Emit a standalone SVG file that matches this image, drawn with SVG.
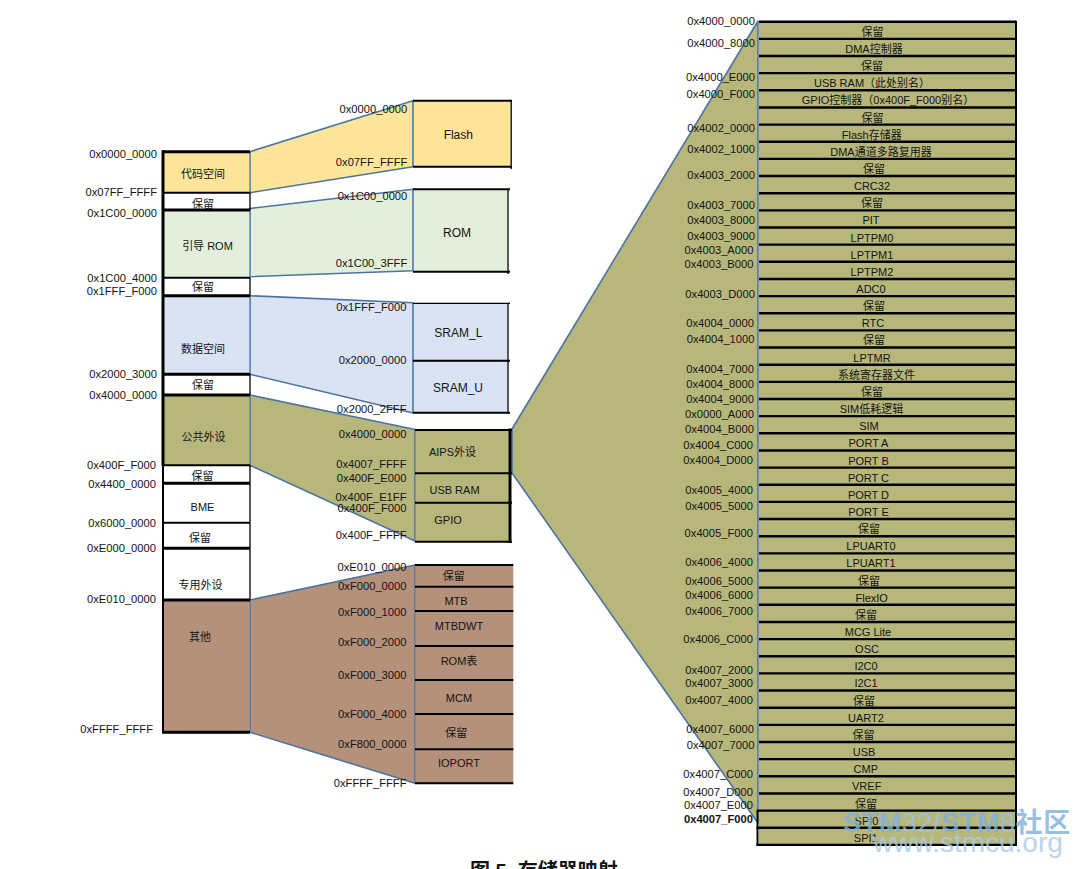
<svg xmlns="http://www.w3.org/2000/svg" width="1081" height="869" viewBox="0 0 1081 869">
<style>
text{font-family:"Liberation Sans","Noto Sans CJK SC",Arial,sans-serif;fill:#141414}
.a{font-size:11.2px;text-anchor:end}
.n{font-size:11px;text-anchor:middle}
.m{font-size:12px;text-anchor:middle}
.k{stroke:#000;fill:none}
.t3{stroke-width:3}
.t2{stroke-width:2}
.t1{stroke-width:1.3}
.trap{stroke:#4C73A3;stroke-width:1.6;stroke-linejoin:round}
.org{fill:#FEE59A}.grn{fill:#E3EFDA}.blu{fill:#DAE3F3}.olv{fill:#B7B77B}.brn{fill:#B4917A}
</style>
<rect width="1081" height="869" fill="#fff"/>

<g id="connectors">
<polygon class="trap org" points="250,151.7 413,100.7 413,166.7 250,192.7"/>
<polygon class="trap grn" points="250,208.5 413,189.3 413,270.7 250,276.7"/>
<polygon class="trap blu" points="250,295.7 413,302.7 413,413 250,374.3"/>
<polygon class="trap olv" points="250,395 415,429.5 415,541 250,465.3"/>
<polygon class="trap brn" points="250,600 415,565 415,783.3 250,732.3"/>
<polygon class="trap olv" points="512,429 758,21 758,823 512,473"/>
</g>

<g id="left-map">
<rect x="163" y="151.7" width="86.2" height="41" class="org"/>
<rect x="163" y="210" width="86.2" height="67.7" class="grn"/>
<rect x="163" y="295.7" width="86.2" height="78.6" class="blu"/>
<rect x="163" y="395" width="86.2" height="70.3" class="olv"/>
<rect x="163" y="600" width="86.2" height="132.3" class="brn"/>
<path class="k t3" d="M163 150.2V466"/>
<path class="k t2" d="M163 466V733.5"/>
<path class="k t1" d="M250 192.7V210M250 277.7V295.7M250 374.3V395M250 465.3V600"/>
<path class="k t3" d="M163 151.7H250M163 210H250M163 295.7H250M163 374.3H250M163 395H250M163 483.3H250M163 548.3H250M163 600H250M163 732.3H250"/>
<path class="k t2" d="M163 192.7H250M163 277.7H250M163 465.3H250M163 522.7H250"/>
<text class="n" x="203" y="177.5">代码空间</text>
<text class="n" x="203" y="208">保留</text>
<text class="n" x="207.5" y="249.5">引导 ROM</text>
<text class="n" x="203" y="291">保留</text>
<text class="n" x="203" y="352.5">数据空间</text>
<text class="n" x="203" y="388.5">保留</text>
<text class="n" x="203.5" y="441">公共外设</text>
<text class="n" x="202.5" y="480">保留</text>
<text class="n" x="202.5" y="510.5">BME</text>
<text class="n" x="200" y="542">保留</text>
<text class="n" x="200.5" y="588.5">专用外设</text>
<text class="n" x="200" y="641">其他</text>
</g>

<g id="left-addresses">
<text class="a" x="157" y="158.3">0x0000_0000</text>
<text class="a" x="157" y="196">0x07FF_FFFF</text>
<text class="a" x="157" y="216.5">0x1C00_0000</text>
<text class="a" x="157" y="281.5">0x1C00_4000</text>
<text class="a" x="157" y="295">0x1FFF_F000</text>
<text class="a" x="157" y="378">0x2000_3000</text>
<text class="a" x="157" y="398.5">0x4000_0000</text>
<text class="a" x="156" y="469">0x400F_F000</text>
<text class="a" x="156" y="487.5">0x4400_0000</text>
<text class="a" x="156" y="526.5">0x6000_0000</text>
<text class="a" x="156" y="551.5">0xE000_0000</text>
<text class="a" x="156" y="603.3">0xE010_0000</text>
<text class="a" x="153" y="733">0xFFFF_FFFF</text>
</g>

<g id="flash">
<rect x="414" y="100.7" width="96.5" height="66" class="org"/>
<path class="k t2" d="M413 100.7H512M413 166.7H512"/>
<path class="k t1" d="M511.2 100V169"/>
<text class="m" x="458.3" y="139">Flash</text>
</g>
<g id="rom">
<rect x="414" y="189.3" width="93.5" height="82.4" class="grn"/>
<path class="k t2" d="M413 189.3H510M413 271.7H510"/>
<path class="k t1" d="M508 189V274"/>
<text class="m" x="457" y="236.5">ROM</text>
</g>
<g id="sram">
<rect x="414" y="303.3" width="93.5" height="109.4" class="blu"/>
<path class="k t1" d="M413 303.3H510"/>
<path class="k t2" d="M413 360.7H510M413 412.7H510"/>
<path class="k t1" d="M508 303V414"/>
<text class="m" x="458.3" y="336.5">SRAM_L</text>
<text class="m" x="458" y="391.5">SRAM_U</text>
</g>
<g id="aips">
<rect x="415.8" y="430" width="93" height="111.7" class="olv"/>
<path class="k t2" d="M415 430H512M415 473.3H512M415 502.7H512M415 541.7H512"/>
<path class="k t3" d="M510 428.5V543"/>
<text class="n" x="452.5" y="455.5">AIPS外设</text>
<text class="n" x="454.5" y="494">USB RAM</text>
<text class="n" x="448" y="524">GPIO</text>
</g>
<g id="others">
<rect x="415.8" y="565" width="97.5" height="218.3" class="brn"/>
<path class="k t2" d="M415 565H513.3M415 586.7H513.3M415 611H513.3M415 646H513.3M415 680H513.3M415 714H513.3M415 749.3H513.3M415 783.3H513.3"/>
<text class="n" x="453.7" y="579.5">保留</text>
<text class="n" x="456" y="605">MTB</text>
<text class="n" x="459" y="630">MTBDWT</text>
<text class="n" x="459" y="665">ROM表</text>
<text class="n" x="459" y="702.3">MCM</text>
<text class="n" x="456.3" y="737">保留</text>
<text class="n" x="459" y="767.3">IOPORT</text>
</g>

<g id="middle-addresses">
<text class="a" x="407.3" y="112.5">0x0000_0000</text>
<text class="a" x="407.3" y="166">0x07FF_FFFF</text>
<text class="a" x="407.3" y="200">0x1C00_0000</text>
<text class="a" x="407.3" y="266.5">0x1C00_3FFF</text>
<text class="a" x="406.5" y="311">0x1FFF_F000</text>
<text class="a" x="406.5" y="364">0x2000_0000</text>
<text class="a" x="406.5" y="413">0x2000_2FFF</text>
<text class="a" x="406.5" y="438">0x4000_0000</text>
<text class="a" x="406.5" y="467.5">0x4007_FFFF</text>
<text class="a" x="406.5" y="481.5">0x400F_E000</text>
<text class="a" x="406.5" y="501">0x400F_E1FF</text>
<text class="a" x="406.5" y="511.5">0x400F_F000</text>
<text class="a" x="406.5" y="539">0x400F_FFFF</text>
<text class="a" x="406.5" y="570.5">0xE010_0000</text>
<text class="a" x="406.5" y="590">0xF000_0000</text>
<text class="a" x="406.5" y="615.5">0xF000_1000</text>
<text class="a" x="406.5" y="645.5">0xF000_2000</text>
<text class="a" x="406.5" y="679">0xF000_3000</text>
<text class="a" x="406.5" y="717.5">0xF000_4000</text>
<text class="a" x="406.5" y="748.3">0xF800_0000</text>
<text class="a" x="406.5" y="786.5">0xFFFF_FFFF</text>
</g>

<g id="aips-map">
<rect x="758.9" y="21.7" width="257.1" height="823.2" class="olv"/>
<path class="k t2" d="M1016 20.7V846M757.5 811V846"/>
<path class="k" stroke-width="2.4" d="M759 21.7H1016M759 38.85H1016M759 56H1016M759 73.15H1016M759 90.3H1016M759 107.45H1016M759 124.6H1016M759 141.75H1016M759 158.9H1016M759 176.05H1016M759 193.2H1016M759 210.35H1016M759 227.5H1016M759 244.65H1016M759 261.8H1016M759 278.95H1016M759 296.1H1016M759 313.25H1016M759 330.4H1016M759 347.55H1016M759 364.7H1016M759 381.85H1016M759 399H1016M759 416.15H1016M759 433.3H1016M759 450.45H1016M759 467.6H1016M759 484.75H1016M759 501.9H1016M759 519.05H1016M759 536.2H1016M759 553.35H1016M759 570.5H1016M759 587.65H1016M759 604.8H1016M759 621.95H1016M759 639.1H1016M759 656.25H1016M759 673.4H1016M759 690.55H1016M759 707.7H1016M759 724.85H1016M759 742H1016M759 759.15H1016M759 776.3H1016M759 793.45H1016M756.5 810.6H1016M756.5 827.75H1016M756.5 844.9H1017"/>
<text class="n" x="872.5" y="35.7">保留</text>
<text class="n" x="874" y="52.9">DMA控制器</text>
<text class="n" x="872" y="70">保留</text>
<text class="n" x="872" y="87.2">USB RAM（此处别名）</text>
<text class="n" x="888" y="104.3">GPIO控制器（0x400F_F000别名）</text>
<text class="n" x="872.5" y="121.5">保留</text>
<text class="n" x="871.7" y="138.6">Flash存储器</text>
<text class="n" x="881" y="155.8">DMA通道多路复用器</text>
<text class="n" x="874" y="172.9">保留</text>
<text class="n" x="872" y="190.1">CRC32</text>
<text class="n" x="872" y="207.2">保留</text>
<text class="n" x="871" y="224.4">PIT</text>
<text class="n" x="872" y="241.5">LPTPM0</text>
<text class="n" x="872" y="258.7">LPTPM1</text>
<text class="n" x="872" y="275.8">LPTPM2</text>
<text class="n" x="871" y="293">ADC0</text>
<text class="n" x="874" y="310.1">保留</text>
<text class="n" x="873" y="327.3">RTC</text>
<text class="n" x="874" y="344.4">保留</text>
<text class="n" x="872" y="361.6">LPTMR</text>
<text class="n" x="876.5" y="378.7">系统寄存器文件</text>
<text class="n" x="872" y="395.9">保留</text>
<text class="n" x="871.5" y="413">SIM低耗逻辑</text>
<text class="n" x="869" y="430.2">SIM</text>
<text class="n" x="868.5" y="447.3">PORT A</text>
<text class="n" x="868.5" y="464.5">PORT B</text>
<text class="n" x="868.5" y="481.6">PORT C</text>
<text class="n" x="868.5" y="498.8">PORT D</text>
<text class="n" x="868.5" y="515.9">PORT E</text>
<text class="n" x="869" y="533.1">保留</text>
<text class="n" x="871" y="550.2">LPUART0</text>
<text class="n" x="871" y="567.4">LPUART1</text>
<text class="n" x="869" y="584.5">保留</text>
<text class="n" x="871.7" y="601.7">FlexIO</text>
<text class="n" x="866" y="618.8">保留</text>
<text class="n" x="868" y="636">MCG Lite</text>
<text class="n" x="867" y="653.1">OSC</text>
<text class="n" x="866" y="670.3">I2C0</text>
<text class="n" x="866" y="687.4">I2C1</text>
<text class="n" x="864" y="704.6">保留</text>
<text class="n" x="866" y="721.7">UART2</text>
<text class="n" x="863.5" y="738.9">保留</text>
<text class="n" x="864" y="756">USB</text>
<text class="n" x="865.8" y="773.2">CMP</text>
<text class="n" x="866.7" y="790.3">VREF</text>
<text class="n" x="866" y="807.5">保留</text>
<text class="n" x="866.5" y="824.6">SPI0</text>
<text class="n" x="865.8" y="841.8">SPI1</text>
</g>

<g id="right-addresses">
<text class="a" x="755" y="25">0x4000_0000</text>
<text class="a" x="755" y="46.5">0x4000_8000</text>
<text class="a" x="755" y="81">0x4000_E000</text>
<text class="a" x="755" y="98.3">0x4000_F000</text>
<text class="a" x="755" y="131.5">0x4002_0000</text>
<text class="a" x="755" y="153.3">0x4002_1000</text>
<text class="a" x="755" y="179">0x4003_2000</text>
<text class="a" x="755" y="209">0x4003_7000</text>
<text class="a" x="755" y="224">0x4003_8000</text>
<text class="a" x="755" y="240">0x4003_9000</text>
<text class="a" x="753.5" y="254.3">0x4003_A000</text>
<text class="a" x="753.5" y="268.3">0x4003_B000</text>
<text class="a" x="755" y="298">0x4003_D000</text>
<text class="a" x="754" y="327.3">0x4004_0000</text>
<text class="a" x="754.5" y="342.7">0x4004_1000</text>
<text class="a" x="754" y="373.3">0x4004_7000</text>
<text class="a" x="754" y="388.3">0x4004_8000</text>
<text class="a" x="754" y="403.3">0x4004_9000</text>
<text class="a" x="754" y="417.7">0x0000_A000</text>
<text class="a" x="754" y="432.7">0x4004_B000</text>
<text class="a" x="753" y="449">0x4004_C000</text>
<text class="a" x="753" y="464.3">0x4004_D000</text>
<text class="a" x="753" y="493.7">0x4005_4000</text>
<text class="a" x="753" y="510.3">0x4005_5000</text>
<text class="a" x="753" y="537.3">0x4005_F000</text>
<text class="a" x="753" y="566">0x4006_4000</text>
<text class="a" x="753" y="585">0x4006_5000</text>
<text class="a" x="753" y="599.3">0x4006_6000</text>
<text class="a" x="753" y="615">0x4006_7000</text>
<text class="a" x="753" y="642.7">0x4006_C000</text>
<text class="a" x="753" y="674">0x4007_2000</text>
<text class="a" x="753" y="687.3">0x4007_3000</text>
<text class="a" x="753" y="704">0x4007_4000</text>
<text class="a" x="754" y="732.7">0x4007_6000</text>
<text class="a" x="754.5" y="749">0x4007_7000</text>
<text class="a" x="753" y="777.7">0x4007_C000</text>
<text class="a" x="753" y="795.7">0x4007_D000</text>
<text class="a" x="753" y="809">0x4007_E000</text>
<text class="a" x="753" y="822.7" font-weight="bold">0x4007_F000</text>
</g>

<g id="caption">
<text x="470" y="878" font-size="20" font-weight="bold">图 5. 存储器映射</text>
</g>

<g id="watermark" opacity="0.8">
<text x="843" y="832" font-size="27" letter-spacing="0.6" style="fill:#9CC3E4"><tspan font-weight="bold" style="fill:#7FB1DC">STM</tspan>32/<tspan font-weight="bold" style="fill:#7FB1DC">STM</tspan>8<tspan font-weight="bold" style="fill:#7FB1DC">社区</tspan></text>
<text x="873" y="852" font-size="28" style="fill:#A9CBE8">www.stmcu.org</text>
</g>
</svg>
